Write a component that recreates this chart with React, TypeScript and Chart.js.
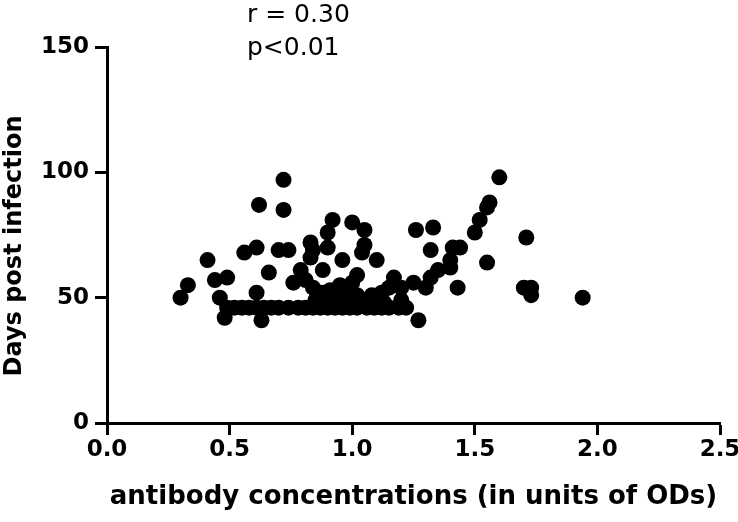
import { useEffect, useRef } from "react";
import { Chart, registerables } from "chart.js";

Chart.register(...registerables);

// antibody concentration (OD) of each sample
const antibodyOD: number[] = [
  0.30, 0.33, 0.41, 0.44, 0.49, 0.46, 0.48, 0.61, 0.63, 0.56,
  0.61, 0.66, 0.70, 0.74, 0.72, 0.62, 0.72, 0.92, 0.90, 1.00,
  1.05, 0.83, 0.90, 1.05, 0.83, 0.96, 1.04, 1.10, 0.79, 0.88,
  0.76, 0.81, 0.84, 1.02, 1.00, 0.91, 0.95, 1.02, 1.08, 1.15,
  1.17, 0.88, 0.93, 1.32, 1.41, 1.40, 1.35, 1.32, 1.30, 1.43,
  1.55, 1.27, 1.25, 1.20, 1.20, 1.26, 1.33, 1.60, 1.56, 1.55,
  1.52, 1.50, 1.44, 1.40, 1.71, 1.73, 1.70, 1.73, 1.94, 0.84,
  0.49, 0.52, 0.55, 0.58, 0.61, 0.64, 0.67, 0.70, 0.74, 0.78,
  0.81, 0.84, 0.87, 0.90, 0.93, 0.96, 0.99, 1.02, 1.06, 1.09,
  1.12, 1.15, 1.19, 1.22, 0.86, 0.92, 0.96, 1.00, 1.05, 1.13,
  0.88, 0.98, 1.00, 0.85, 0.95, 1.12,
];

// days post infection of each sample
const daysPostInfection: number[] = [
  50, 55, 65, 57, 58, 50, 42, 52, 41, 68,
  70, 60, 69, 69, 97, 87, 85, 81, 76, 80,
  77, 72, 70, 71, 66, 65, 68, 65, 61, 61,
  56, 57, 54, 59, 56, 53, 55, 51, 51, 54,
  58, 50, 50, 69, 70, 62, 61, 58, 54, 54,
  64, 41, 56, 54, 49, 77, 78, 98, 88, 86,
  81, 76, 70, 65, 74, 54, 54, 51, 50, 69,
  46, 46, 46, 46, 46, 46, 46, 46, 46, 46,
  46, 46, 46, 46, 46, 46, 46, 46, 46, 46,
  46, 46, 46, 46, 48, 49, 48, 49, 49, 48,
  52, 52, 50, 49, 48, 52,
];

const xTickLabels = ["0.0", "0.5", "1.0", "1.5", "2.0", "2.5"];
const yTickLabels = ["0", "50", "100", "150"];
const statLines = ["r = 0.30", "p<0.01"];
const xTitle = "antibody concentrations (in units of ODs)";
const yTitle = "Days post infection";

const textPlugin = {
  id: "extraText",
  afterDraw(chart: any) {
    const ctx = chart.ctx;
    const area = chart.chartArea;
    ctx.save();
    ctx.fillStyle = "#000";
    // statistics annotation
    ctx.font = '25px "DejaVu Sans"';
    ctx.textAlign = "left";
    ctx.textBaseline = "alphabetic";
    const x = area.left + 140;
    ctx.fillText(statLines[0], x, 22);
    ctx.fillText(statLines[1], x, 55);
    // y axis title
    ctx.font = 'bold 24px "DejaVu Sans"';
    ctx.textAlign = "center";
    ctx.textBaseline = "middle";
    ctx.translate(15, (area.top + area.bottom) / 2 + 11);
    ctx.rotate(-Math.PI / 2);
    ctx.fillText(yTitle, 0, 0);
    ctx.restore();
  },
};

export default function App() {
  const canvasRef = useRef<HTMLCanvasElement | null>(null);

  useEffect(() => {
    if (!canvasRef.current) return;
    const points = antibodyOD.map((x, i) => ({ x, y: daysPostInfection[i] }));
    const chart = new Chart(canvasRef.current, {
      type: "scatter",
      data: {
        datasets: [
          {
            data: points,
            backgroundColor: "#000",
            borderColor: "#000",
            borderWidth: 0,
            pointRadius: 8,
            pointHoverRadius: 8,
          },
        ],
      },
      options: {
        responsive: false,
        animation: false,
        layout: { padding: { top: 47, right: 18, left: 0, bottom: 0 } },
        plugins: {
          legend: { display: false },
          tooltip: { enabled: false },
        },
        scales: {
          x: {
            type: "linear",
            min: 0,
            max: 2.5,
            afterFit: (scale: any) => {
              scale.height = 99;
              scale.paddingLeft = 0;
              scale.paddingRight = 0;
            },
            afterBuildTicks: (scale: any) => {
              scale.ticks = xTickLabels.map((l) => ({ value: parseFloat(l) }));
            },
            ticks: {
              color: "#000",
              font: { family: "DejaVu Sans", size: 23, weight: "bold" },
              padding: 1,
              maxRotation: 0,
              callback: (v: any) => Number(v).toFixed(1),
            },
            grid: {
              display: true,
              drawOnChartArea: false,
              drawTicks: true,
              tickLength: 12,
              tickWidth: 3,
              tickColor: "#000",
            },
            border: { display: true, color: "#000", width: 3 },
            title: {
              display: true,
              text: xTitle,
              color: "#000",
              font: { family: "DejaVu Sans", size: 26, weight: "bold" },
              padding: { top: 0, bottom: 9 },
            },
          },
          y: {
            type: "linear",
            min: 0,
            max: 150,
            afterFit: (scale: any) => {
              scale.width = 107;
              scale.paddingTop = 0;
              scale.paddingBottom = 0;
            },
            afterBuildTicks: (scale: any) => {
              scale.ticks = yTickLabels.map((l) => ({ value: parseFloat(l) }));
            },
            ticks: {
              color: "#000",
              font: { family: "DejaVu Sans", size: 23, weight: "bold" },
              padding: 6,
            },
            grid: {
              display: true,
              drawOnChartArea: false,
              drawTicks: true,
              tickLength: 12,
              tickWidth: 3,
              tickColor: "#000",
            },
            border: { display: true, color: "#000", width: 3 },
            title: { display: false },
          },
        },
      },
      plugins: [textPlugin],
    });
    return () => chart.destroy();
  }, []);

  return (
    <div style={{ position: "absolute", left: 0, top: 0, width: 738, height: 522, background: "#fff" }}>
      <canvas ref={canvasRef} width={738} height={522} />
    </div>
  );
}
